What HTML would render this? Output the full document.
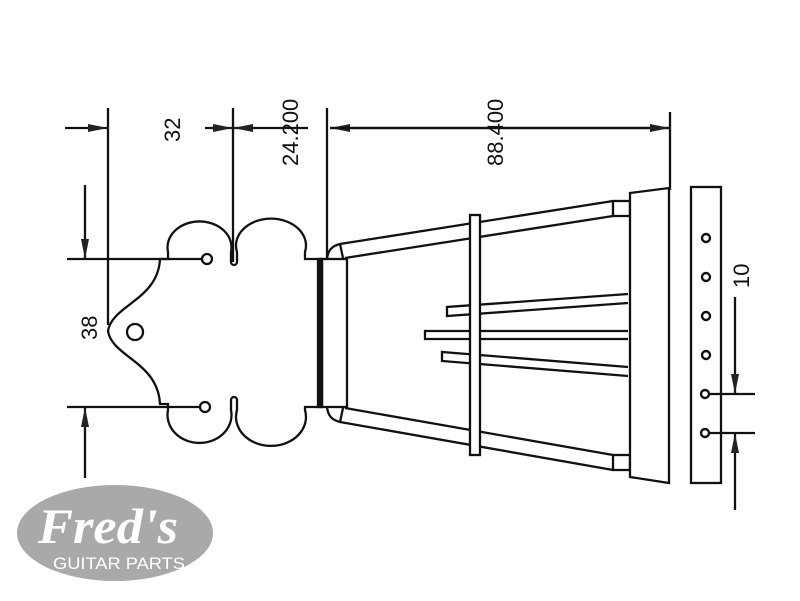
<!DOCTYPE html>
<html><head><meta charset="utf-8"><style>html,body{margin:0;padding:0;background:#fff}svg{display:block}</style></head>
<body>
<svg width="800" height="601" viewBox="0 0 800 601" xmlns="http://www.w3.org/2000/svg" font-family="Liberation Sans, sans-serif">
<defs>
<marker id="a" viewBox="0 0 20 8" refX="20" refY="4" markerWidth="20" markerHeight="8" markerUnits="userSpaceOnUse" orient="auto"><path d="M0,0 L20,4 L0,8 Z" fill="#222"/></marker>
</defs>
<g stroke="#111" stroke-width="2.3" fill="none">
<line x1="65" y1="128" x2="108" y2="128" marker-end="url(#a)"/>
<line x1="108" y1="108" x2="108" y2="325"/>
<line x1="205" y1="128" x2="233" y2="128" marker-end="url(#a)"/>
<line x1="308" y1="128" x2="233" y2="128" marker-end="url(#a)"/>
<line x1="233" y1="108" x2="233" y2="262"/>
<line x1="327" y1="108" x2="327" y2="259"/>
<line x1="670" y1="128" x2="330" y2="128" marker-end="url(#a)"/>
<line x1="330" y1="128" x2="670" y2="128" marker-end="url(#a)"/>
<line x1="670" y1="112" x2="670" y2="190"/>
<line x1="67" y1="259" x2="202" y2="259"/>
<line x1="67" y1="407" x2="200" y2="407"/>
<line x1="85" y1="185" x2="85" y2="259" marker-end="url(#a)"/>
<line x1="85" y1="478" x2="85" y2="407" marker-end="url(#a)"/>
<path d="M322,259 L305,259 L305,252 A35,27 0 1 0 237,252 L237,262 A3,3 0 0 1 231,262 L231,252 A32,26 0 1 0 168,252 L168,259 L160,259 C158,300 112,305 108,331 C112,357 158,362 160,404 L168,404 L168,410 A32,28 0 1 0 231,410 L231,400 A3,3 0 0 1 237,400 L237,410 A35,29 0 1 0 305,410 L305,407 L322,407"/>
<circle cx="207" cy="259" r="5"/>
<circle cx="205" cy="407" r="5"/>
<circle cx="135" cy="332" r="8"/>
<rect x="318" y="259" width="4" height="148" fill="#111"/>
<rect x="322" y="259" width="25" height="148"/>
<path d="M327,259 C328,250 332,246 340,244 L613,201"/>
<line x1="345" y1="258" x2="613" y2="216"/>
<line x1="340" y1="244" x2="343" y2="258"/>
<path d="M327,407 C328,416 332,420 340,422 L613,470"/>
<line x1="345" y1="408" x2="613" y2="455"/>
<line x1="340" y1="422" x2="343" y2="408"/>
<rect x="613" y="201" width="17" height="15"/>
<rect x="613" y="455" width="17" height="15"/>
<path d="M628,294 L447,307 L447,316 L628,303"/>
<path d="M628,331 L425,331 L425,339 L628,339"/>
<path d="M628,367 L442,352 L442,361 L628,376"/>
<rect x="470" y="215" width="10" height="240" fill="#fff"/>
<path d="M630,193 L669,188 L669,483 L630,477 Z" fill="#fff"/>
<rect x="691" y="187" width="30" height="296"/>
<g stroke-width="2.4"><circle cx="706" cy="238" r="4"/><circle cx="706" cy="277" r="4"/><circle cx="706" cy="316" r="4"/><circle cx="706" cy="355" r="4"/><circle cx="705" cy="394" r="4"/><circle cx="705" cy="433" r="4"/></g>
<line x1="710" y1="394" x2="755" y2="394"/>
<line x1="710" y1="433" x2="755" y2="433"/>
<line x1="735" y1="297" x2="735" y2="394" marker-end="url(#a)"/>
<line x1="735" y1="510" x2="735" y2="433" marker-end="url(#a)"/>
</g>
<g fill="#111" font-size="22">
<text transform="translate(180,142) rotate(-90)">32</text>
<text transform="translate(298,166) rotate(-90)">24.200</text>
<text transform="translate(503,166) rotate(-90)">88.400</text>
<text transform="translate(97,340) rotate(-90)">38</text>
<text transform="translate(749,288) rotate(-90)">10</text>
</g>
<ellipse cx="115" cy="533" rx="98" ry="48" fill="#a9a9a9"/>
<text x="38" y="543" fill="#fff" font-family="Liberation Serif, serif" font-style="italic" font-weight="bold" font-size="50" textLength="140" lengthAdjust="spacingAndGlyphs">Fred's</text>
<text x="53" y="569" fill="#fff" font-size="17" textLength="132" lengthAdjust="spacingAndGlyphs">GUITAR PARTS</text>
</svg>
</body></html>
